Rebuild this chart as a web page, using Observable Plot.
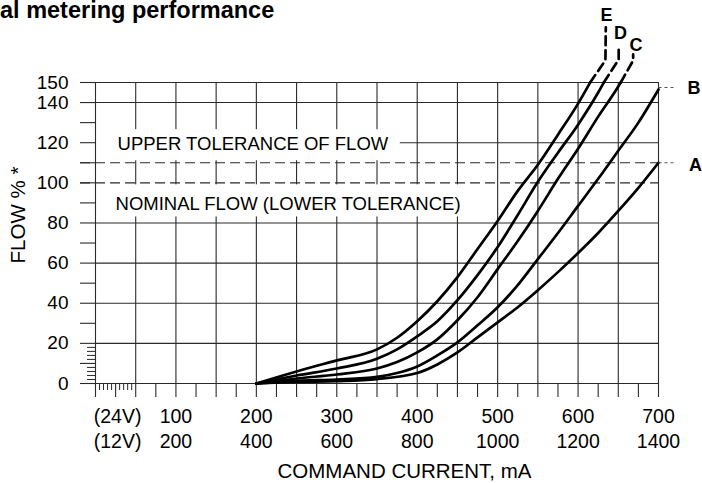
<!DOCTYPE html>
<html><head><meta charset="utf-8">
<script src="https://cdn.jsdelivr.net/npm/d3@7"></script>
<script src="https://cdn.jsdelivr.net/npm/@observablehq/plot@0.6"></script>
<style>
html,body{margin:0;padding:0;background:#fff;}
#wrap{position:relative;width:702px;height:483px;overflow:hidden;}
#title{position:absolute;left:0px;top:-1px;font:bold 23.5px "Liberation Sans",Arial,sans-serif;line-height:1;white-space:nowrap;color:#000;}
</style></head><body>
<div id="wrap"><div id="chart"></div><div id="title"></div></div>
<script>
// ---- texts ----
const titleText = "al metering performance";
const xTitle = "COMMAND CURRENT, mA";
const yTitle = "FLOW % *";
const notes = ["UPPER TOLERANCE OF FLOW", "NOMINAL FLOW (LOWER TOLERANCE)"];
const supplyLabels = ["(24V)", "(12V)"];

// ---- tick labels ----
const current24 = [100, 200, 300, 400, 500, 600, 700];
const current12 = [200, 400, 600, 800, 1000, 1200, 1400];
const flowLabels = [0, 20, 40, 60, 80, 100, 120, 140, 150];
const flowTicks = [0, 10, 20, 30, 40, 50, 60, 70, 80, 90, 100, 110, 120, 130, 140, 150];
const currentTicks = [0,25,50,75,100,125,150,175,200,225,250,275,300,325,350,375,400,425,450,475,500,525,550,575,600,625,650,675,700];
const gridCurrent = [50,100,150,200,250,300,350,400,450,500,550,600,650];
const gridFlow = [20, 40, 60, 80, 120, 140];
const frameFlow = [0, 150];
const frameCurrent = [0, 700];
const toleranceFlow = [100, 110];
const rulerCurrent = [5, 10, 15, 20, 30, 35, 40, 45];
const rulerFlow = [2, 4, 6, 8, 12, 14, 16, 18];

// ---- curves (current at 24V, mA ; flow %) ----
const curveNames = ["A", "B", "C", "D", "E"];
const currentA = [200,250,300,350,400,425,450,475,500,525,550,575,600,625,650,675,700];
const flowA    = [0,0.8,1.2,2.2,5.2,9.5,15.5,23,30.5,38,46.5,55.5,65,75,86,97.5,110];
const currentB = [200,250,300,350,375,400,425,450,475,500,525,550,575,600,625,650,675,700];
const flowB    = [0,1.3,2,3.3,5.2,8.5,14,20.5,29,38,49,62,75,88.5,102,116,130,146.5];
const currentC = [200,250,300,350,375,400,425,450,475,500,525,550,575,600,625,650,653];
const flowC    = [0,2.5,4.5,7.5,10.7,15.5,22,31.5,43,57,71,86,102,117,133,148,150];
const currentD = [200,250,300,350,375,400,425,450,475,500,525,550,575,600,625,632];
const flowD    = [0,4,7.5,12.3,17,23.5,31,41.5,54,68,84,100.5,115,129,145,150];
const currentE = [200,250,300,350,375,400,425,450,475,500,525,550,575,600,615];
const flowE    = [0,6,11.5,17,22.8,31,41,53,67,81,96,109,124,139.5,150];
// dashed continuations above 150 %
const extCurrentC = [653, 668.5, 668.5];
const extFlowC    = [150, 161, 164];
const extCurrentD = [632, 650.5, 650.5];
const extFlowD    = [150, 161.5, 166.5];
const extCurrentE = [615, 634, 634.5];
const extFlowE    = [150, 161, 177.5];

// ---- annotation anchors (data units) ----
const labelCurrent = [746, 744, 672, 652.7, 635.4];
const labelFlow = [109, 147.3, 168.5, 174.5, 183.7];
const leaderFlow = [110, 147.5];
const leaderFrom = 700, leaderTo = 722;
const noteCurrent = [27.4, 24.9];
const noteFlow = [119.5, 89.5];
const boxCurrent1 = [0.5, 0.5], boxCurrent2 = [379, 460];
const boxFlow1 = [111, 83], boxFlow2 = [126.5, 99];
const supplyCurrent = 27.4;

// ---- build tables ----
const solid = [];
[[currentA, flowA], [currentB, flowB], [currentC, flowC], [currentD, flowD], [currentE, flowE]]
  .forEach(([xs, ys], k) => xs.forEach((x, i) => solid.push({curve: curveNames[k], x, y: ys[i]})));
const dashed = [];
[["C", extCurrentC, extFlowC], ["D", extCurrentD, extFlowD], ["E", extCurrentE, extFlowE]]
  .forEach(([c, xs, ys]) => xs.forEach((x, i) => dashed.push({curve: c, x, y: ys[i]})));

const grid = "#2a2a2a";
const font = '"Liberation Sans", Arial, sans-serif';

document.getElementById("title").textContent = titleText;

const bottomText = {frameAnchor: "bottom", lineAnchor: "middle", textAnchor: "middle", fontSize: 19.5};

const chart = Plot.plot({
  width: 702, height: 483,
  marginLeft: 95, marginRight: 44, marginTop: 82, marginBottom: 100,
  x: {domain: [0, 700], label: null},
  y: {domain: [0, 150], label: null},
  style: {fontFamily: font, color: "#000", background: "#fff", overflow: "visible"},
  marks: [
    Plot.ruleX(gridCurrent, {y1: 0, y2: 150, stroke: grid, strokeWidth: 1.1}),
    Plot.ruleY(gridFlow, {x1: 0, x2: 700, stroke: grid, strokeWidth: 1.1}),
    Plot.ruleY(toleranceFlow, {x1: -18.6, x2: 700, stroke: grid, strokeWidth: 1.1, strokeDasharray: "10,5"}),
    Plot.rect([0, 1], {x1: i => boxCurrent1[i], x2: i => boxCurrent2[i], y1: i => boxFlow1[i], y2: i => boxFlow2[i], fill: "#fff"}),
    Plot.text([0, 1], {x: i => noteCurrent[i], y: i => noteFlow[i], text: i => notes[i], textAnchor: "start", fontSize: 18.5}),
    Plot.ruleX(frameCurrent, {y1: 0, y2: 150, stroke: grid, strokeWidth: 1.1}),
    Plot.ruleY(frameFlow, {x1: 0, x2: 700, stroke: grid, strokeWidth: 1.1}),
    Plot.axisX(currentTicks, {tickSize: 14, fill: "none", stroke: grid, strokeWidth: 1.1, label: null}),
    Plot.axisX(rulerCurrent, {tickSize: 7, fill: "none", stroke: grid, strokeWidth: 1, label: null}),
    Plot.axisY(flowTicks, {tickSize: 15, fill: "none", stroke: grid, strokeWidth: 1.1, label: null}),
    Plot.axisY(rulerFlow, {tickSize: 8, fill: "none", stroke: grid, strokeWidth: 1, label: null}),
    Plot.axisY(flowLabels, {tickSize: 0, tickPadding: 27, fontSize: 19, label: null}),
    Plot.text(current24, {x: d => d, text: d => String(d), dy: 33.3, ...bottomText}),
    Plot.text(current24, {x: d => d, text: (d, i) => String(current12[i]), dy: 58.5, ...bottomText}),
    Plot.text([0], {x: () => supplyCurrent, text: () => supplyLabels[0], dy: 33.3, ...bottomText}),
    Plot.text([0], {x: () => supplyCurrent, text: () => supplyLabels[1], dy: 58.5, ...bottomText}),
    Plot.text([xTitle], {...bottomText, dx: 27.5, dy: 87.5, fontSize: 20.5}),
    Plot.text([yTitle], {frameAnchor: "left", textAnchor: "middle", lineAnchor: "middle", rotate: -90, dx: -77, dy: -18, fontSize: 20.5}),
    Plot.line(solid, {x: "x", y: "y", z: "curve", stroke: "#000", strokeWidth: 2.7, curve: "monotone-x"}),
    Plot.line(dashed, {x: "x", y: "y", z: "curve", stroke: "#000", strokeWidth: 2.7, strokeDasharray: "9,5"}),
    Plot.link(leaderFlow, {x1: leaderFrom, x2: leaderTo, y1: d => d, y2: d => d, stroke: "#555", strokeWidth: 1.2, strokeDasharray: "3,3"}),
    Plot.text(curveNames, {x: (d, i) => labelCurrent[i], y: (d, i) => labelFlow[i], text: d => d, fontSize: 18, fontWeight: "bold"})
  ]
});
document.getElementById("chart").appendChild(chart);
</script>
</body></html>
